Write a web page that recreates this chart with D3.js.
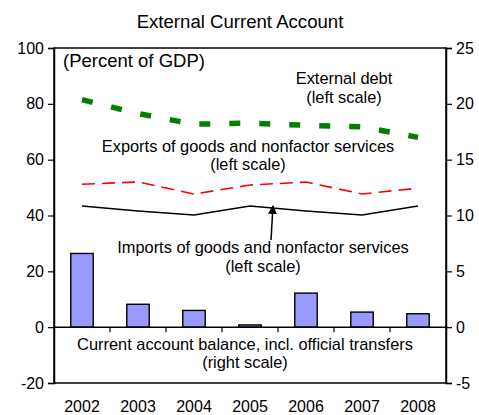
<!DOCTYPE html>
<html>
<head>
<meta charset="utf-8">
<script src="https://cdn.jsdelivr.net/npm/d3@7"></script>
<style>
  body { margin: 0; background: #fff; }
  svg text { font-family: "Liberation Sans", Arial, sans-serif; fill: #000; }
</style>
</head>
<body>
<svg id="chart" width="479" height="415"></svg>
<script>
var years = ['2002', '2003', '2004', '2005', '2006', '2007', '2008']
var externalDebt = [81.5, 76.5, 72.7, 73.1, 72.3, 71.8, 68]
var exportsGNFS = [51.2, 52, 47.7, 50.9, 52, 47.7, 49.8]
var importsGNFS = [43.4, 41.6, 40.2, 43.4, 41.6, 40.2, 43.4]
var currentAccount = [6.6, 2.05, 1.5, 0.2, 3.05, 1.35, 1.2]
var leftTicks = [-20, 0, 20, 40, 60, 80, 100]
var rightTicks = [-5, 0, 5, 10, 15, 20, 25]

var svg = d3.select('#chart')
var plotLeft = 54, plotRight = 446, plotTop = 48, plotBottom = 383

var x = d3.scaleBand().domain(years).range([plotLeft, plotRight])
var yL = d3.scaleLinear().domain([-20, 100]).range([plotBottom, plotTop])
var yR = d3.scaleLinear().domain([-5, 25]).range([plotBottom, plotTop])

// frame
svg.append('rect')
    .attr('x', plotLeft).attr('y', plotTop)
    .attr('width', plotRight - plotLeft).attr('height', plotBottom - plotTop)
    .attr('fill', 'none').attr('stroke', '#000').attr('stroke-width', 1.5)

// bars (right scale)
var barW = x.bandwidth() * 0.4
svg.selectAll('.bar')
    .data(currentAccount)
    .join('rect')
    .attr('class', 'bar')
    .attr('x', (d, i) => x(years[i]) + x.bandwidth() / 2 - barW / 2)
    .attr('y', d => yR(d))
    .attr('width', barW)
    .attr('height', d => yR(0) - yR(d))
    .attr('fill', '#9999ff')
    .attr('stroke', '#000')
    .attr('stroke-width', 1.4)

// zero line with category ticks
svg.append('line')
    .attr('x1', plotLeft).attr('x2', plotRight)
    .attr('y1', yL(0)).attr('y2', yL(0))
    .attr('stroke', '#000').attr('stroke-width', 1.5)
svg.selectAll('.xtick')
    .data(years.slice(1))
    .join('line')
    .attr('class', 'xtick')
    .attr('x1', d => x(d)).attr('x2', d => x(d))
    .attr('y1', yL(0)).attr('y2', yL(0) + 5)
    .attr('stroke', '#000').attr('stroke-width', 1.2)

svg.selectAll('.xlab')
    .data(years)
    .join('text')
    .attr('class', 'xlab')
    .attr('x', d => x(d) + x.bandwidth() / 2)
    .attr('y', 412)
    .attr('text-anchor', 'middle')
    .style('font-size', '16px')
    .text(d => d)

// axes
var gL = svg.append('g')
    .attr('transform', `translate(${plotLeft},0)`)
    .call(d3.axisLeft(yL).tickValues(leftTicks).tickFormat(d => String(d)).tickSize(6).tickPadding(4))
var gR = svg.append('g')
    .attr('transform', `translate(${plotRight},0)`)
    .call(d3.axisRight(yR).tickValues(rightTicks).tickFormat(d => String(d)).tickSize(6).tickPadding(4))
;[gL, gR].forEach(function (g) {
    g.select('.domain').attr('stroke-width', 1.5)
    g.selectAll('.tick line').attr('stroke-width', 1.2)
    g.selectAll('.tick text')
        .style('font-size', '16px')
        .style('font-family', '"Liberation Sans", Arial, sans-serif')
        .attr('fill', '#000')
})

// lines (left scale)
var line = d3.line()
    .x((d, i) => x(years[i]) + x.bandwidth() / 2)
    .y(d => yL(d))

svg.append('path')
    .datum(importsGNFS)
    .attr('d', line)
    .attr('fill', 'none').attr('stroke', '#000').attr('stroke-width', 1.5)

svg.append('path')
    .datum(exportsGNFS)
    .attr('d', line)
    .attr('fill', 'none').attr('stroke', '#ff0000').attr('stroke-width', 1.6)
    .attr('stroke-dasharray', '13,7')

svg.append('path')
    .datum(externalDebt)
    .attr('d', line)
    .attr('fill', 'none').attr('stroke', '#008000').attr('stroke-width', 5.5)
    .attr('stroke-dasharray', '11,19')

// arrow
svg.append('defs').append('marker')
    .attr('id', 'arrow')
    .attr('viewBox', '0 0 10 10')
    .attr('refX', 9).attr('refY', 5)
    .attr('markerWidth', 9).attr('markerHeight', 9)
    .attr('markerUnits', 'userSpaceOnUse')
    .attr('orient', 'auto')
    .append('path').attr('d', 'M0,0 L10,5 L0,10 Z').attr('fill', '#000')
svg.append('line')
    .attr('x1', 271).attr('y1', 240)
    .attr('x2', 273).attr('y2', 206)
    .attr('stroke', '#000').attr('stroke-width', 1.5)
    .attr('marker-end', 'url(#arrow)')

// texts
function label(xp, yp, lines, size, gap) {
    var t = svg.append('text')
        .attr('x', xp).attr('y', yp)
        .attr('text-anchor', 'middle')
        .style('font-size', size + 'px')
    lines.forEach(function (s, i) {
        t.append('tspan').attr('x', xp).attr('dy', i ? gap : 0).text(s)
    })
}
label(240, 28, ['External Current Account'], 18.6, 0)
svg.append('text').attr('x', 63).attr('y', 67).style('font-size', '18.5px').text('(Percent of GDP)')
label(344, 84, ['External debt', '(left scale)'], 16.4, 19)
label(248, 152, ['Exports of goods and nonfactor services', '(left scale)'], 16.4, 18)
label(263, 253, ['Imports of goods and nonfactor services', '(left scale)'], 16.4, 19)
label(245, 350, ['Current account balance, incl. official transfers', '(right scale)'], 16.4, 18)
</script>
</body>
</html>
